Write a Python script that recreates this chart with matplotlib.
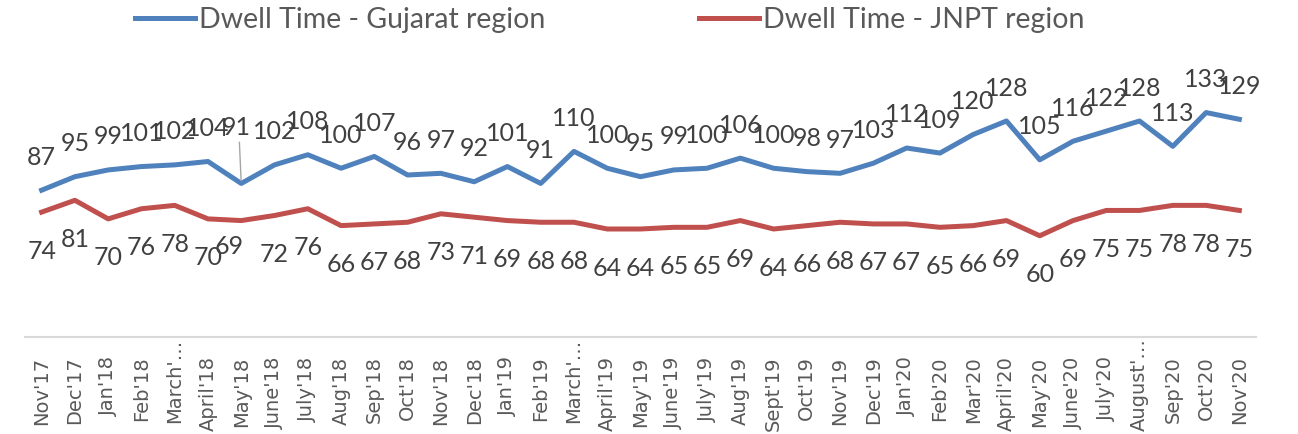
import numpy as np
import matplotlib.pyplot as plt

# Monthly dwell time, Nov'17 .. Nov'20
months = ["Nov'17", "Dec'17", "Jan'18", "Feb'18", "March'…", "April'18", "May'18",
          "June'18", "July'18", "Aug'18", "Sep'18", "Oct'18", "Nov'18", "Dec'18",
          "Jan'19", "Feb'19", "March'…", "April'19", "May'19", "June'19", "July'19",
          "Aug'19", "Sept'19", "Oct'19", "Nov'19", "Dec'19", "Jan'20", "Feb'20",
          "Mar'20", "April'20", "May'20", "June'20", "July'20", "August'…",
          "Sep'20", "Oct'20", "Nov'20"]
gujarat = [87, 95, 99, 101, 102, 104, 91, 102, 108, 100, 107, 96, 97, 92, 101, 91,
           110, 100, 95, 99, 100, 106, 100, 98, 97, 103, 112, 109, 120, 128, 105,
           116, 122, 128, 113, 133, 129]
jnpt = [74, 81, 70, 76, 78, 70, 69, 72, 76, 66, 67, 68, 73, 71, 69, 68, 68, 64, 64,
        65, 65, 69, 64, 66, 68, 67, 67, 65, 66, 69, 60, 69, 75, 75, 78, 78, 75]

BLUE = '#4F81BD'
RED = '#C0504D'
TXT = '#404040'
LBL_FONT = 'Lato'

fig = plt.figure(figsize=(12.98, 4.34), dpi=100)
ax = fig.add_axes([25/1298, 1-337/434, 1231/1298, 270/434])

x = np.arange(len(months))
ax.plot(x, gujarat, color=BLUE, lw=3.6, solid_joinstyle='round',
        label='Dwell Time - Gujarat region')
ax.plot(x, jnpt, color=RED, lw=3.6, solid_joinstyle='round',
        label='Dwell Time - JNPT region')

# data labels (pixel offsets), a couple nudged by hand like in the original
blue_nudge = {6: (-5, 56)}
red_nudge = {6: (-12, -26)}
for i, v in enumerate(gujarat):
    dx, dy = blue_nudge.get(i, (0, 33))
    ax.annotate(str(v), (i, v), xytext=(dx, dy), textcoords='offset pixels',
                ha='center', va='center', fontsize=18, color=TXT, family=LBL_FONT)
    if i in blue_nudge:
        ax.annotate('', (i, v), xytext=(-2, 44), textcoords='offset pixels',
                    arrowprops=dict(arrowstyle='-', color='#A6A6A6', lw=1))
for i, v in enumerate(jnpt):
    dx, dy = red_nudge.get(i, (0, -39))
    ax.annotate(str(v), (i, v), xytext=(dx, dy), textcoords='offset pixels',
                ha='center', va='center', fontsize=18, color=TXT, family=LBL_FONT)

ax.set_xlim(-0.5, len(months) - 0.5)
ax.set_ylim(0, 160)
ax.set_xticks(x)
ax.set_xticklabels(months, rotation=90, fontsize=14, color='#595959', va='top')
ax.tick_params(axis='x', length=0, pad=14)
# truncated labels sit right under the axis line
for tick, m in zip(ax.xaxis.get_major_ticks(), months):
    if m.endswith('…'):
        tick.set_pad(1)
ax.set_yticks([])
for s in ['top', 'right', 'left']:
    ax.spines[s].set_visible(False)
ax.spines['bottom'].set_color('#D9D9D9')
ax.spines['bottom'].set_linewidth(1.5)

fig.legend(loc='center', bbox_to_anchor=(610/1298, 1-20/434), ncol=2,
           frameon=False, prop={'family': LBL_FONT, 'size': 20.5},
           handlelength=2.1, handletextpad=0.15, columnspacing=5.4, borderpad=0,
           labelcolor='#595959')

plt.savefig('out.png', dpi=100)
